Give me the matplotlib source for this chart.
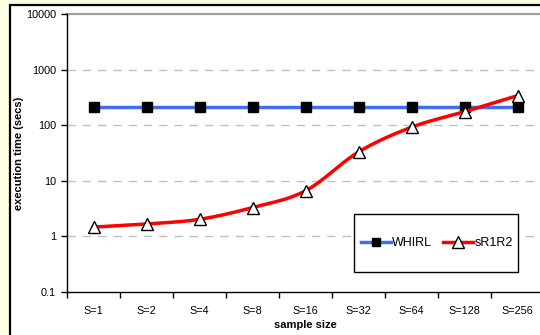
import numpy as np
import matplotlib
matplotlib.use("Agg")
import matplotlib.pyplot as plt
from matplotlib.patches import Rectangle
from matplotlib.ticker import FixedLocator, FixedFormatter, NullFormatter

plt.rcParams["font.family"] = ["Liberation Sans", "DejaVu Sans"]

# 数据：各采样规模下的执行时间（秒）
sizes = ["S=1", "S=2", "S=4", "S=8", "S=16", "S=32", "S=64", "S=128", "S=256"]
whirl = [215, 215, 215, 215, 215, 215, 215, 215, 215]
sr1r2 = [1.47, 1.67, 2.03, 3.3, 6.6, 33, 92, 175, 340]
ytick_vals = [0.1, 1, 10, 100, 1000, 10000]
ytick_labels = ["0.1", "1", "10", "100", "1000", "10000"]


def smooth(x, y, n=20):
    """Catmull-Rom 平滑（对数坐标下），仅用于连线显示。"""
    x = np.asarray(x, float)
    ly = np.log10(np.asarray(y, float))
    px = np.concatenate([[2 * x[0] - x[1]], x, [2 * x[-1] - x[-2]]])
    py = np.concatenate([[2 * ly[0] - ly[1]], ly, [2 * ly[-1] - ly[-2]]])
    xs, ys = [], []
    t = np.linspace(0, 1, n, endpoint=False)
    for i in range(1, len(px) - 2):
        for arr, out in ((px, xs), (py, ys)):
            p0, p1, p2, p3 = arr[i - 1], arr[i], arr[i + 1], arr[i + 2]
            out.extend(0.5 * (2 * p1 + (-p0 + p2) * t
                              + (2 * p0 - 5 * p1 + 4 * p2 - p3) * t ** 2
                              + (-p0 + 3 * p1 - 3 * p2 + p3) * t ** 3))
    xs.append(x[-1])
    ys.append(ly[-1])
    return np.array(xs), 10 ** np.array(ys)


W, H = 540, 335
# 绘图区像素边界
L, R, T, B = 67, 544, 14, 292
fig = plt.figure(figsize=(W / 100, H / 100), dpi=100)
fig.patch.set_facecolor("#FFFFE1")

# 白色图表区与黑色边框（右、下边超出画布）
fig.add_artist(Rectangle((9.5 / W, -0.05), 1.2, (H - 4.5) / H + 0.05,
                         transform=fig.transFigure, facecolor="white",
                         edgecolor="black", linewidth=1.6, zorder=-10))

ax = fig.add_axes([L / W, (H - B) / H, (R - L) / W, (B - T) / H])
ax.set_facecolor("white")
ax.set_yscale("log")
ax.set_ylim(0.1, 10000)
x = np.arange(len(sizes))
ax.set_xlim(-0.5, len(sizes) - 0.5)

for v in [1, 10, 100, 1000]:
    ax.axhline(v, color="#C0C0C0", lw=1.0, ls=(0, (6, 5)), zorder=0)
ax.axhline(10000, color="#A0A0A0", lw=1.6, zorder=0, clip_on=False)

BLUE = "#3F6FF0"
sx, sy = smooth(x, sr1r2)
ax.plot(x, whirl, color=BLUE, lw=2.5, zorder=2)
ax.plot(x, whirl, ls="none", marker="s", ms=6.6, mfc="black", mec="black", zorder=3)
ax.plot(sx, sy, color="red", lw=2.5, zorder=4)
ax.plot(x, sr1r2, ls="none", marker="^", ms=8.5, mfc="white", mec="black",
        mew=1.0, zorder=5)


def to_ax(px, py):
    return (px - L) / (R - L), 1 - (py - T) / (B - T)


# 图例边框
bx0, by0 = to_ax(354, 272)
bx1, by1 = to_ax(518, 214)
ax.add_patch(Rectangle((bx0, by0), bx1 - bx0, by1 - by0, transform=ax.transAxes,
                       facecolor="white", edgecolor="black", lw=1.0, zorder=6))

h1, = ax.plot([], [], color=BLUE, lw=2.5, marker="s", ms=5.5,
              mfc="black", mec="black", label="WHIRL")
h2, = ax.plot([], [], color="red", lw=2.5, marker="^", ms=8,
              mfc="white", mec="black", mew=1.0, label="sR1R2")
cx, cy = to_ax(437, 243)
leg = ax.legend(handles=[h1, h2], ncol=2, loc="center", bbox_to_anchor=(cx, cy),
                fontsize=9, frameon=False, handlelength=2.4,
                handletextpad=0.1, columnspacing=0.9, borderpad=0,
                borderaxespad=0)
leg.set_zorder(7)

ax.spines["top"].set_visible(False)
ax.spines["right"].set_visible(False)
for s in ("left", "bottom"):
    ax.spines[s].set_linewidth(1.0)

ax.yaxis.set_major_locator(FixedLocator(ytick_vals))
ax.yaxis.set_major_formatter(FixedFormatter(ytick_labels))
ax.yaxis.set_minor_locator(FixedLocator([]))
ax.tick_params(axis="y", direction="out", length=4, width=1, labelsize=7.8, pad=4)

ax.xaxis.set_major_locator(FixedLocator(np.arange(len(sizes) + 1) - 0.5))
ax.xaxis.set_major_formatter(NullFormatter())
ax.xaxis.set_minor_locator(FixedLocator(x))
ax.xaxis.set_minor_formatter(FixedFormatter(sizes))
ax.tick_params(axis="x", which="major", direction="out", length=4, width=1)
ax.tick_params(axis="x", which="minor", length=0, labelsize=7.8, pad=10)

ax.set_xlabel("sample size", fontsize=8, fontweight="bold", labelpad=3)
ax.set_ylabel("execution time (secs)", fontsize=8, fontweight="bold")
ax.yaxis.set_label_coords((24 - L) / (R - L), 0.5)

fig.savefig("out.png", dpi=100, facecolor=fig.get_facecolor())
